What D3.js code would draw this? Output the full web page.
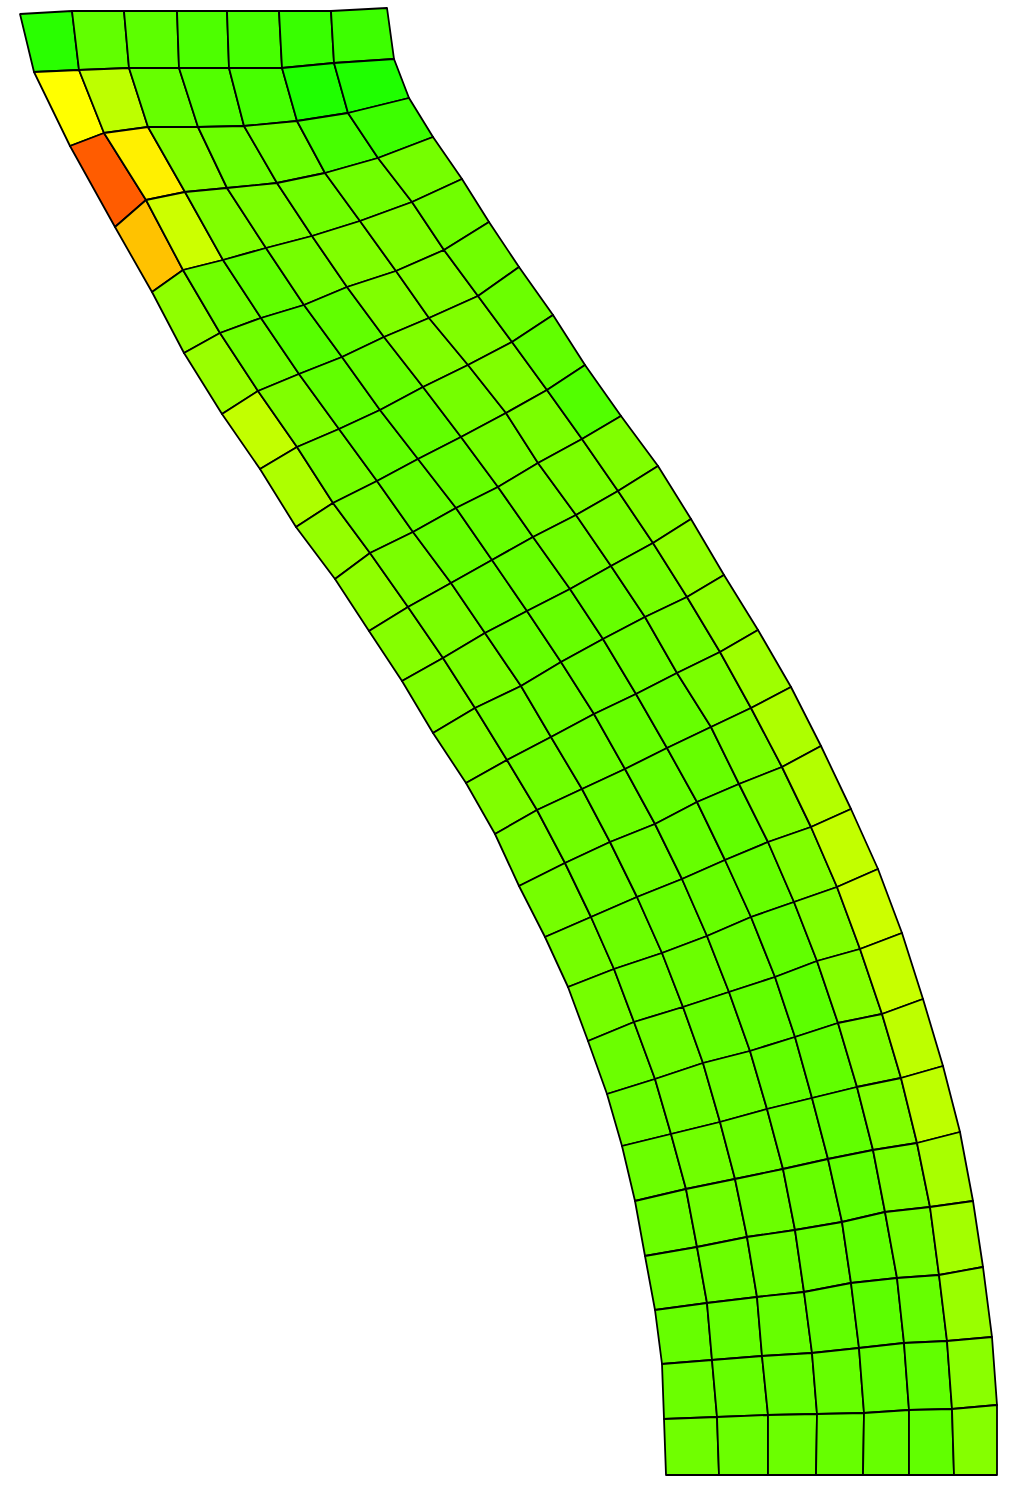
<!DOCTYPE html>
<html>
<head>
<meta charset="utf-8">
<style>
  html, body { margin: 0; background: #fff; }
  svg { display: block; }
</style>
<script src="https://cdn.jsdelivr.net/npm/d3@7"></script>
</head>
<body>
<div id="chart-area"></div>
<script>
// mesh node positions, one row per cross section, left edge to right edge
const nodeX = [
  [20, 72, 124, 177, 227, 279, 331, 387],
  [34, 79, 129, 179, 229, 282, 334, 394],
  [70, 104, 148, 198, 244, 297, 348, 409],
  [115, 146, 185, 227, 277, 325, 378, 433],
  [152, 183, 223, 266, 312, 360, 412, 462],
  [184, 220, 261, 304, 347, 396, 444, 489],
  [222, 258, 299, 342, 384, 429, 478, 519],
  [260, 297, 339, 380, 423, 468, 512, 553],
  [296, 333, 377, 418, 461, 506, 547, 585],
  [335, 370, 413, 456, 498, 538, 582, 621],
  [369, 408, 451, 492, 533, 576, 618, 658],
  [402, 443, 485, 527, 570, 611, 653, 691],
  [433, 475, 521, 561, 603, 645, 687, 724],
  [466, 507, 551, 594, 636, 677, 720, 758],
  [495, 537, 582, 625, 667, 711, 751, 791],
  [519, 565, 610, 655, 697, 739, 782, 821],
  [545, 591, 637, 682, 725, 768, 811, 851],
  [568, 614, 662, 707, 751, 794, 837, 878],
  [588, 634, 683, 729, 775, 817, 860, 902],
  [607, 655, 703, 750, 795, 838, 882, 923],
  [622, 671, 720, 767, 812, 857, 901, 943],
  [635, 686, 735, 783, 828, 873, 917, 960],
  [645, 697, 747, 795, 842, 885, 930, 973],
  [655, 707, 757, 804, 851, 897, 939, 983],
  [662, 712, 762, 812, 859, 904, 947, 992],
  [664, 717, 768, 817, 864, 909, 952, 997],
  [666, 719, 768, 816, 863, 909, 954, 997]
];

const nodeY = [
  [14, 11, 11, 11, 11, 11, 11, 8],
  [72, 70, 68, 68, 68, 68, 63, 59],
  [146, 133, 127, 127, 126, 121, 113, 98],
  [227, 200, 192, 188, 183, 173, 158, 137],
  [292, 270, 260, 248, 236, 221, 202, 179],
  [353, 333, 318, 305, 287, 271, 250, 222],
  [414, 391, 374, 357, 337, 318, 296, 267],
  [469, 447, 429, 410, 387, 365, 342, 315],
  [527, 503, 481, 459, 437, 413, 390, 365],
  [579, 553, 532, 508, 487, 463, 439, 416],
  [631, 607, 583, 560, 537, 515, 491, 466],
  [681, 658, 633, 611, 589, 566, 543, 519],
  [733, 708, 686, 662, 639, 617, 597, 575],
  [783, 760, 737, 714, 694, 673, 652, 630],
  [834, 810, 789, 769, 748, 727, 708, 687],
  [886, 863, 842, 824, 802, 784, 767, 746],
  [937, 917, 897, 879, 860, 842, 827, 809],
  [987, 969, 953, 936, 917, 902, 887, 869],
  [1041, 1022, 1007, 992, 977, 961, 949, 933],
  [1094, 1079, 1063, 1051, 1037, 1023, 1014, 999],
  [1146, 1134, 1122, 1109, 1098, 1087, 1078, 1066],
  [1201, 1189, 1179, 1169, 1159, 1150, 1143, 1132],
  [1256, 1247, 1237, 1230, 1222, 1212, 1207, 1201],
  [1310, 1303, 1297, 1292, 1283, 1278, 1275, 1267],
  [1364, 1360, 1356, 1353, 1348, 1343, 1341, 1337],
  [1419, 1417, 1415, 1414, 1413, 1410, 1409, 1405],
  [1475, 1475, 1475, 1475, 1475, 1475, 1475, 1475]
];

// cell values on the 0-100 colour scale, one row per band of elements
const cellValues = [
  [8, 19, 18, 15, 14, 11, 12],
  [50, 37, 20, 16, 14, 6, 6],
  [82, 53, 26, 21, 21, 14, 12],
  [62, 40, 25, 24, 22, 22, 23],
  [28, 22, 19, 23, 25, 25, 22],
  [30, 22, 17, 19, 25, 25, 22],
  [38, 25, 19, 20, 25, 25, 21],
  [34, 23, 19, 19, 23, 25, 19],
  [29, 23, 20, 20, 23, 24, 16],
  [28, 24, 20, 20, 23, 24, 25],
  [26, 24, 20, 20, 22, 24, 26],
  [25, 24, 20, 20, 20, 23, 28],
  [25, 22, 21, 20, 21, 23, 28],
  [25, 22, 21, 20, 20, 24, 31],
  [24, 22, 21, 20, 20, 24, 34],
  [23, 21, 21, 20, 19, 25, 35],
  [23, 21, 20, 20, 20, 25, 38],
  [23, 21, 21, 20, 19, 25, 40],
  [21, 22, 20, 19, 18, 26, 39],
  [21, 22, 21, 19, 19, 25, 37],
  [21, 22, 21, 20, 19, 25, 37],
  [21, 22, 21, 20, 19, 24, 33],
  [21, 21, 21, 20, 19, 23, 32],
  [20, 20, 20, 19, 18, 20, 30],
  [21, 20, 20, 20, 19, 19, 27],
  [22, 21, 21, 20, 20, 19, 26]
];

const drawMesh = () => {
  const chartSize = { width: 1017, height: 1492 };

  const x = d3.scaleLinear().domain([0, 1017]).range([0, chartSize.width]);
  const y = d3.scaleLinear().domain([0, 1492]).range([0, chartSize.height]);
  const color = d3.scaleLinear()
    .domain([0, 50, 100])
    .range(["#00ff00", "#ffff00", "#ff0000"]);

  const corner = (r, c) => [x(nodeX[r][c]), y(nodeY[r][c])];
  const cells = cellValues.flatMap((row, r) =>
    row.map((value, c) => ({
      value,
      corners: [corner(r, c), corner(r, c + 1), corner(r + 1, c + 1), corner(r + 1, c)]
    }))
  );

  const line = d3.line().curve(d3.curveLinearClosed);

  const svg = d3.select("#chart-area")
    .append("svg")
    .attr("width", chartSize.width)
    .attr("height", chartSize.height);

  svg.append("g")
    .selectAll("path")
    .data(cells)
    .enter()
    .append("path")
    .attr("d", d => line(d.corners))
    .attr("fill", d => color(d.value))
    .attr("stroke", "#000")
    .attr("stroke-width", 1.8)
    .attr("stroke-linejoin", "round");
};

window.onload = drawMesh;
</script>
</body>
</html>
